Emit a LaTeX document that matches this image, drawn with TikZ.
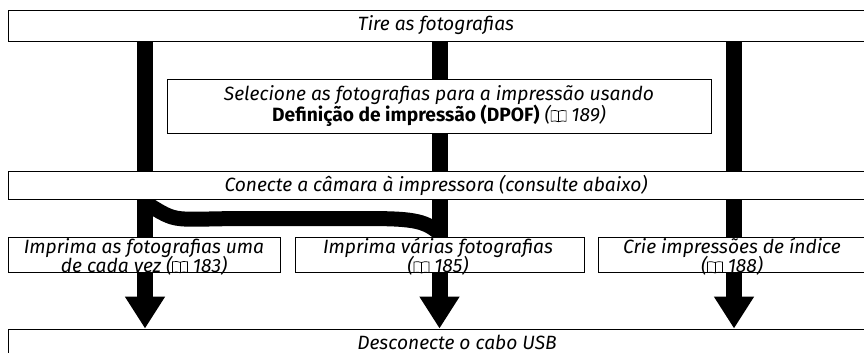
\documentclass[tikz,border=0pt]{standalone}
\usepackage{fontspec}
\setmainfont{Fira Sans}
\usepackage{tikz}
\usetikzlibrary{arrows.meta,backgrounds}

\newcommand{\bookic}{\tikz[baseline=0pt, x=1pt, y=1pt, line width=0.7pt]{%
  \draw (0,0.5) -- (0,11) .. controls (3,11.5) and (5.5,11.5) .. (7.5,10.5)
    .. controls (9.5,11.5) and (12,11.5) .. (15,11) -- (15,0.5)
    .. controls (12,1) and (9.5,1) .. (7.5,0) .. controls (5.5,1) and (3,1) .. (0,0.5);
  \draw (7.5,0) -- (7.5,10.5);}}

\begin{document}
\begin{tikzpicture}[
  x=1pt, y=-1pt,
  box/.style={draw, line width=0.9pt, fill=white, inner sep=0pt},
  txt/.style={font=\fontsize{19.2}{17.8}\selectfont\itshape, align=center, inner sep=0pt},
  bar/.style={line width=16pt},
  flow/.style={line width=16pt, -{Triangle[width=38pt, length=32pt]}},
]
  \useasboundingbox (0,0) rectangle (864,353);

  % columns of the bars
  \coordinate (xL) at (145,0);
  \coordinate (xM) at (439.5,0);
  \coordinate (xR) at (734,0);

  % Top and selection
  \node[box, minimum width=858pt, minimum height=31pt] (top) at (437,25.5) {};
  \node[txt] (toptxt) at (436,25.5) {Tire as fotografias};
  \node[box, minimum width=544pt, minimum height=54pt] (sel) at (439,106) {};
  \node[txt] (seltxt) at (sel.center) {Selecione as fotografias para a impressão usando\\
    {\upshape\bfseries Definição de impressão (DPOF)} (\bookic\ 189)};

  % Connect
  \node[box, minimum width=858pt, minimum height=28pt] (con) at (437,185) {};
  \node[txt] (contxt) at (436,185) {Conecte a câmara à impressora (consulte abaixo)};

  % Print options
  \node[box, minimum width=272pt, minimum height=35pt] (imp1) at (144,254.5) {};
  \node[txt] (imp1txt) at (144,257) {Imprima as fotografias uma\\[-2pt]de cada vez (\bookic\ 183)};
  \node[box, minimum width=289pt, minimum height=35pt] (imp2) at (439.5,254.5) {};
  \node[txt] (imp2txt) at (438,257) {Imprima várias fotografias\\[-2pt](\bookic\ 185)};
  \node[box, minimum width=268pt, minimum height=35pt] (imp3) at (732,254.5) {};
  \node[txt] (imp3txt) at (732,257) {Crie impressões de índice\\[-2pt](\bookic\ 188)};

  % Disconnect
  \node[box, minimum width=858pt, minimum height=31pt] (dis) at (437,344.5) {};
  \node[txt] (distxt) at (457,342) {Desconecte o cabo USB};

  \begin{scope}[on background layer]
    % bars between the upper boxes
    \draw[bar] (top.south -| xL) -- (con.north -| xL);
    \draw[bar] (top.south -| xM) -- (sel.north -| xM);
    \draw[bar] (sel.south -| xM) -- (con.north -| xM);
    \draw[bar] (top.south -| xR) -- (con.north -| xR);
    % bars to the print options
    \draw[bar] (con.south -| xL) -- (imp1.north -| xL);
    \draw[bar] (con.south -| xM) -- (imp2.north -| xM);
    \draw[bar] (con.south -| xR) -- (imp3.north -| xR);
    \draw[line width=15pt] ([yshift=-3pt]con.south -| xL) .. controls +(35,22) and +(-80,0) .. (250,218.5)
      -- (360,218.5) .. controls +(50,0) and +(-15,-14) .. ([yshift=3pt]imp2.north -| xM);
    % arrows to the last step
    \draw[flow] (imp1.south -| xL) -- (dis.north -| xL);
    \draw[flow] (imp2.south -| xM) -- (dis.north -| xM);
    \draw[flow] (imp3.south -| xR) -- (dis.north -| xR);
  \end{scope}
\end{tikzpicture}
\end{document}
